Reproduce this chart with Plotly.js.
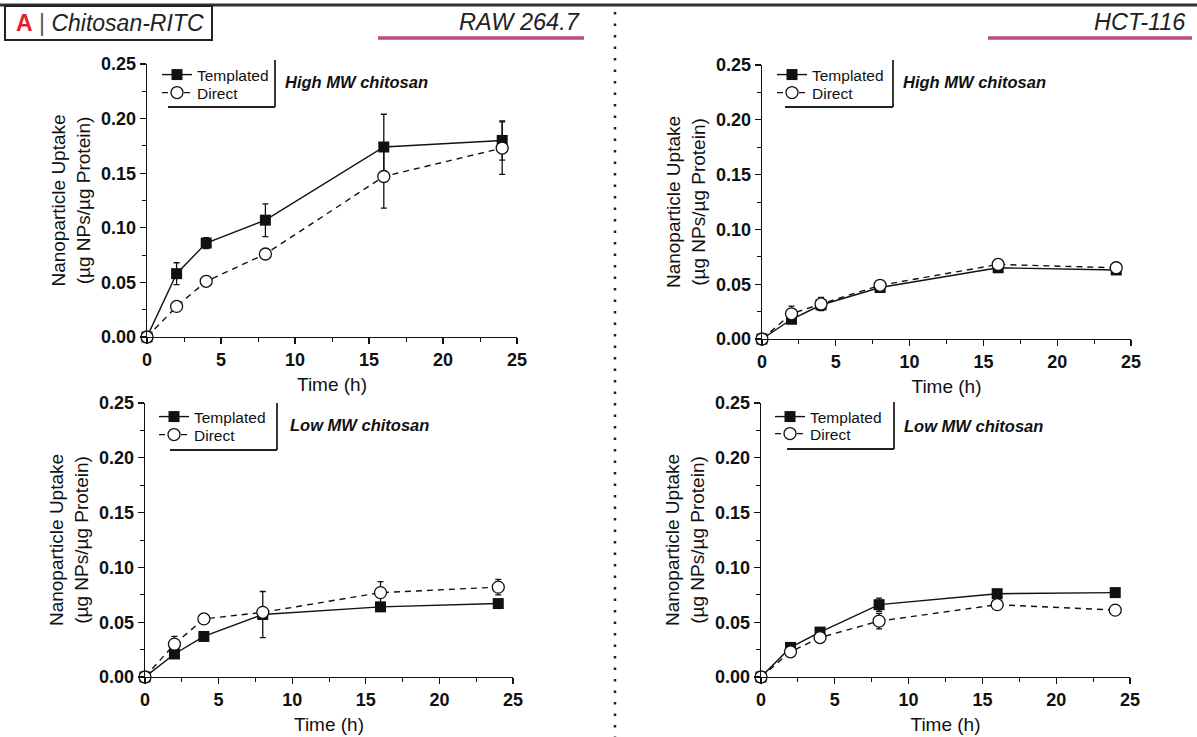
<!DOCTYPE html>
<html><head><meta charset="utf-8">
<script src="https://cdn.plot.ly/plotly-3.0.1.min.js"></script>
<style>html,body{margin:0;padding:0;background:#fff}#chart{width:1197px;height:737px}</style>
</head><body><div id="chart"></div>
<script>
// ---- data ----
const timeHours = [0, 2, 4, 8, 16, 24];
const xTicks = [0, 5, 10, 15, 20, 25];
const yTicks = [0, 0.05, 0.10, 0.15, 0.20, 0.25];
const seriesNames = ['Templated', 'Direct'];
const panelLabels = ['High MW chitosan', 'High MW chitosan', 'Low MW chitosan', 'Low MW chitosan'];
const cellLines = ['RAW 264.7', 'HCT-116'];

const rawHighTemplated    = [0, 0.058, 0.086, 0.107, 0.174, 0.180];
const rawHighTemplatedErr = [0, 0.010, 0.005, 0.015, 0.030, 0.018];
const rawHighDirect       = [0, 0.028, 0.051, 0.076, 0.147, 0.173];
const rawHighDirectErr    = [0, 0.002, 0.004, 0.004, 0.029, 0.024];

const hctHighTemplated    = [0, 0.018, 0.031, 0.047, 0.065, 0.063];
const hctHighTemplatedErr = [0, 0.003, 0.003, 0.003, 0.002, 0.002];
const hctHighDirect       = [0, 0.023, 0.032, 0.049, 0.068, 0.065];
const hctHighDirectErr    = [0, 0.007, 0.006, 0.004, 0.002, 0.002];

const rawLowTemplated     = [0, 0.021, 0.037, 0.057, 0.064, 0.067];
const rawLowTemplatedErr  = [0, 0.003, 0.004, 0.021, 0.002, 0.002];
const rawLowDirect        = [0, 0.030, 0.053, 0.059, 0.077, 0.082];
const rawLowDirectErr     = [0, 0.007, 0.003, 0.003, 0.010, 0.007];

const hctLowTemplated     = [0, 0.027, 0.041, 0.066, 0.076, 0.077];
const hctLowTemplatedErr  = [0, 0.002, 0.002, 0.006, 0.004, 0.002];
const hctLowDirect        = [0, 0.023, 0.036, 0.051, 0.066, 0.061];
const hctLowDirectErr     = [0, 0.002, 0.002, 0.007, 0.002, 0.004];

// ---- layout helpers ----
const W = 1197, H = 737;
const px = x => x / W;
const py = y => 1 - y / H;
const FONT = "Arial, 'Liberation Sans', Helvetica, sans-serif";
const INK = '#111111';
const PINK = '#b94c8a';

const panels = [
  {templ: rawHighTemplated, templErr: rawHighTemplatedErr, dir: rawHighDirect, dirErr: rawHighDirectErr,
   xDom: [147, 517], yDom: [337, 64], legX: 177, legY: [74, 92], labelX: 283, labelY: 82,
   br: {x: 275, y0: 60, y1: 107, hx0: 168}},
  {templ: hctHighTemplated, templErr: hctHighTemplatedErr, dir: hctHighDirect, dirErr: hctHighDirectErr,
   xDom: [762, 1131], yDom: [339, 65], legX: 792, legY: [74, 92], labelX: 901, labelY: 82,
   br: {x: 893, y0: 60, y1: 107, hx0: 785}},
  {templ: rawLowTemplated, templErr: rawLowTemplatedErr, dir: rawLowDirect, dirErr: rawLowDirectErr,
   xDom: [145, 513], yDom: [677, 403], legX: 174, legY: [416, 434], labelX: 288, labelY: 425,
   br: {x: 277, y0: 403, y1: 450, hx0: 170}},
  {templ: hctLowTemplated, templErr: hctLowTemplatedErr, dir: hctLowDirect, dirErr: hctLowDirectErr,
   xDom: [761, 1130], yDom: [677, 403], legX: 790, legY: [416, 433], labelX: 902, labelY: 426,
   br: {x: 894, y0: 402, y1: 449, hx0: 787}}
];

const data = [];
const layout = {
  width: W, height: H,
  margin: {l: 0, r: 0, t: 0, b: 0},
  paper_bgcolor: '#ffffff', plot_bgcolor: 'rgba(0,0,0,0)',
  font: {family: FONT, color: INK},
  showlegend: true,
  shapes: [], annotations: []
};

const legendId = n => (n === 1 ? 'legend' : 'legend' + n);

panels.forEach((p, i) => {
  const s = i === 0 ? '' : String(i + 1);
  const xa = 'x' + s, ya = 'y' + s;
  const lT = legendId(2 * i + 1), lD = legendId(2 * i + 2);

  data.push({
    x: timeHours, y: p.templ, name: seriesNames[0], type: 'scatter', mode: 'lines+markers',
    xaxis: xa, yaxis: ya, legend: lT, cliponaxis: false,
    line: {color: INK, width: 1.4},
    marker: {symbol: 'square', size: 11, color: INK, line: {color: INK, width: 0}},
    error_y: {type: 'data', array: p.templErr, visible: true, color: INK, thickness: 1.3, width: 3}
  });
  data.push({
    x: timeHours, y: p.dir, name: seriesNames[1], type: 'scatter', mode: 'lines+markers',
    xaxis: xa, yaxis: ya, legend: lD, cliponaxis: false,
    line: {color: INK, width: 1.4, dash: '6px,5px'},
    marker: {symbol: 'circle', size: 12, color: '#ffffff', line: {color: INK, width: 1.3}},
    error_y: {type: 'data', array: p.dirErr, visible: true, color: INK, thickness: 1.3, width: 3}
  });

  layout['xaxis' + s] = {
    domain: [px(p.xDom[0]), px(p.xDom[1])], anchor: ya,
    range: [0, 25], tickvals: xTicks, ticktext: xTicks.map(String),
    showline: true, linecolor: INK, linewidth: 1.4, showgrid: false, zeroline: false,
    ticks: 'outside', ticklen: 6, tickwidth: 1.3, tickcolor: INK,
    minor: {dtick: 2.5, tick0: 0, ticks: 'outside', ticklen: 4, tickwidth: 1, tickcolor: INK, showgrid: false},
    tickfont: {family: FONT, size: 18, color: INK, weight: 'bold'},
    title: {text: 'Time (h)', font: {family: FONT, size: 19, color: INK}, standoff: 8},
    fixedrange: true
  };
  layout['yaxis' + s] = {
    domain: [py(p.yDom[0]), py(p.yDom[1])], anchor: xa,
    range: [0, 0.25], tickvals: yTicks, ticktext: yTicks.map(v => v.toFixed(2)),
    showline: true, linecolor: INK, linewidth: 1.4, showgrid: false, zeroline: false,
    ticks: 'outside', ticklen: 6, tickwidth: 1.3, tickcolor: INK,
    minor: {dtick: 0.025, tick0: 0, ticks: 'outside', ticklen: 4, tickwidth: 1, tickcolor: INK, showgrid: false},
    tickfont: {family: FONT, size: 18, color: INK, weight: 'bold'},
    title: {text: 'Nanoparticle Uptake<br>(\u00b5g NPs/\u00b5g Protein)', font: {family: FONT, size: 19, color: INK}, standoff: 5},
    fixedrange: true
  };

  [lT, lD].forEach((lid, k) => {
    layout[lid] = {
      x: px(p.legX - 20), y: py(p.legY[k] - 16), xanchor: 'left', yanchor: 'top',
      bgcolor: 'rgba(0,0,0,0)', borderwidth: 0,
      font: {family: FONT, size: 15.5, color: INK}
    };
  });

  // legend bracket
  layout.shapes.push({type: 'line', xref: 'paper', yref: 'paper',
    x0: px(p.br.x), x1: px(p.br.x), y0: py(p.br.y0), y1: py(p.br.y1), line: {color: '#222', width: 1.8}});
  layout.shapes.push({type: 'line', xref: 'paper', yref: 'paper',
    x0: px(p.br.hx0), x1: px(p.br.x), y0: py(p.br.y1), y1: py(p.br.y1), line: {color: '#222', width: 1.8}});

  layout.annotations.push({xref: 'paper', yref: 'paper', x: px(p.labelX), y: py(p.labelY),
    xanchor: 'left', yanchor: 'middle', showarrow: false,
    text: '<b><i>' + panelLabels[i] + '</i></b>', font: {family: FONT, size: 16.5, color: INK}});
});

// header decorations
layout.shapes.push({type: 'line', xref: 'paper', yref: 'paper', x0: 0, x1: 1, y0: py(5), y1: py(5), line: {color: '#333', width: 3}});
layout.shapes.push({type: 'rect', xref: 'paper', yref: 'paper', x0: px(5), x1: px(212), y0: py(6), y1: py(40), line: {color: '#222', width: 2}, fillcolor: 'rgba(0,0,0,0)'});
layout.shapes.push({type: 'line', xref: 'paper', yref: 'paper', x0: px(378), x1: px(584), y0: py(38), y1: py(38), line: {color: PINK, width: 3.5}});
layout.shapes.push({type: 'line', xref: 'paper', yref: 'paper', x0: px(988), x1: px(1192), y0: py(38), y1: py(38), line: {color: PINK, width: 3.5}});
layout.shapes.push({type: 'line', xref: 'paper', yref: 'paper', x0: px(615), x1: px(615), y0: py(12), y1: py(737), line: {color: '#222', width: 2.5, dash: '2.5px,9px'}});

layout.annotations.push({xref: 'paper', yref: 'paper', x: px(14), y: py(23), xanchor: 'left', yanchor: 'middle', showarrow: false,
  text: '<span style="color:#e3202a"><b>A</b></span> <span style="color:#555">|</span> <i>Chitosan-RITC</i>', font: {family: FONT, size: 23, color: '#222'}});
layout.annotations.push({xref: 'paper', yref: 'paper', x: px(582), y: py(22), xanchor: 'right', yanchor: 'middle', showarrow: false,
  text: '<i>' + cellLines[0] + '</i>', font: {family: FONT, size: 23.5, color: '#222'}});
layout.annotations.push({xref: 'paper', yref: 'paper', x: px(1188), y: py(22), xanchor: 'right', yanchor: 'middle', showarrow: false,
  text: '<i>' + cellLines[1] + '</i>', font: {family: FONT, size: 23.5, color: '#222'}});

Plotly.newPlot('chart', data, layout, {displayModeBar: false, staticPlot: true});
</script></body></html>
